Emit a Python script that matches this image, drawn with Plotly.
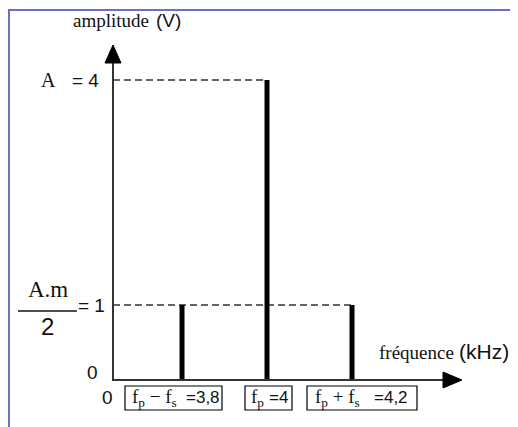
import plotly.graph_objects as go

# spectre du signal modulé en amplitude
freqs = [3.8, 4.0, 4.2]          # kHz
amps = [1, 4, 1]                 # V
freq_names = ["f<sub>p</sub> − f<sub>s</sub>", "f<sub>p</sub>", "f<sub>p</sub> + f<sub>s</sub>"]
freq_values = ["=3,8", "=4", "=4,2"]
amp_levels = [4, 1]
amp_level_ends = [4.0, 4.2]

# la page a une marge de 8 px : la figure fait 510 x 419
W, H = 510, 419
L, R, T, B = 105, 56, 37, 47
x_range = [3.6376, 4.4588]
y_range = [0, 4.4667]

SERIF = "Liberation Serif"
SANS = "Liberation Sans"
INK = "#111111"


# coordonnées écran (fenêtre 518x427) -> paper
def px(x):
    return (x - 113) / 349


def py(y):
    return (380 - y) / 335


fig = go.Figure()

# pointillés de repère
dx, dy = [], []
for lvl, end in zip(amp_levels, amp_level_ends):
    dx += [x_range[0], end, None]
    dy += [lvl, lvl, None]
fig.add_trace(go.Scatter(x=dx, y=dy, mode="lines",
                         line=dict(color="#333333", width=1.5, dash="7px,4px"),
                         hoverinfo="skip"))

# raies
sx, sy = [], []
for f, a in zip(freqs, amps):
    sx += [f, f, None]
    sy += [0, a, None]
fig.add_trace(go.Scatter(x=sx, y=sy, mode="lines",
                         line=dict(color="black", width=5), hoverinfo="skip"))

shapes = []
# axes + flèches
shapes.append(dict(type="line", xref="paper", yref="paper",
                   x0=px(113), y0=py(381), x1=px(113), y1=py(60),
                   line=dict(color="#333333", width=2)))
shapes.append(dict(type="line", xref="paper", yref="paper",
                   x0=px(112), y0=py(380), x1=px(446), y1=py(380),
                   line=dict(color="#333333", width=2)))
shapes.append(dict(type="path", xref="paper", yref="paper",
                   path=f"M {px(113)} {py(45)} L {px(105)} {py(63)} L {px(121)} {py(63)} Z",
                   fillcolor="black", line=dict(color="black", width=1)))
shapes.append(dict(type="path", xref="paper", yref="paper",
                   path=f"M {px(462)} {py(380)} L {px(443)} {py(372)} L {px(443)} {py(388)} Z",
                   fillcolor="black", line=dict(color="black", width=1)))
# cadre
shapes.append(dict(type="path", xref="paper", yref="paper",
                   path=f"M {px(9)} {py(430)} L {px(9)} {py(10)} L {px(520)} {py(10)}",
                   line=dict(color="#6c70c4", width=2)))
# barre de fraction A.m/2
yb = amp_levels[1] / y_range[1] - 6 / 335
shapes.append(dict(type="line", xref="paper", yref="paper",
                   x0=px(18), x1=px(77), y0=yb, y1=yb,
                   line=dict(color=INK, width=1.5)))
# cadres des étiquettes de fréquence
for x0, x1 in [(125, 222), (245, 292), (307, 417)]:
    shapes.append(dict(type="rect", xref="paper", yref="paper",
                       x0=px(x0), x1=px(x1), y0=py(386), y1=py(410),
                       line=dict(color="black", width=1.2)))

ann = []


def txt(x, y, t, family, size, anchor="center", yref="paper", yshift=0):
    ann.append(dict(xref="paper", yref=yref, x=px(x), y=y if yref != "paper" else py(y),
                    xanchor=anchor, yanchor="middle", yshift=yshift, text=t,
                    showarrow=False, font=dict(family=family, size=size, color=INK)))


txt(151, 21, "amplitude", SERIF, 19, "right")
txt(154, 21, "(V)", SANS, 19, "left")
txt(456, 352, "fréquence", SERIF, 19, "right")
txt(457, 351, "(kHz)", SANS, 21, "left")
txt(58, amp_levels[0], "A", SERIF, 20, "right", "y")
txt(101, amp_levels[0], "= 4", SANS, 19, "right", "y")
txt(107, amp_levels[1], "= 1", SANS, 19, "right", "y")
txt(48, amp_levels[1], "A.m", SERIF, 23, yref="y", yshift=16)
txt(47, amp_levels[1], "2", SANS, 24, yref="y", yshift=-21)
txt(92, 0, "0", SANS, 19, yref="y", yshift=8)
txt(107, 397, "0", SANS, 19)

# étiquettes des raies
name_pos = [(130, 184), (249, 267), (313, 372)]
for (xa, xb), n, v in zip(name_pos, freq_names, freq_values):
    txt(xa, 398, n, SERIF, 19, "left")
    txt(xb, 398, v, SANS, 17, "left")

fig.update_layout(
    width=W, height=H,
    margin=dict(l=L, r=R, t=T, b=B),
    paper_bgcolor="white", plot_bgcolor="white",
    showlegend=False,
    xaxis=dict(range=x_range, visible=False, fixedrange=True),
    yaxis=dict(range=y_range, visible=False, fixedrange=True),
    shapes=shapes, annotations=ann,
)

fig.write_html("out.html")
